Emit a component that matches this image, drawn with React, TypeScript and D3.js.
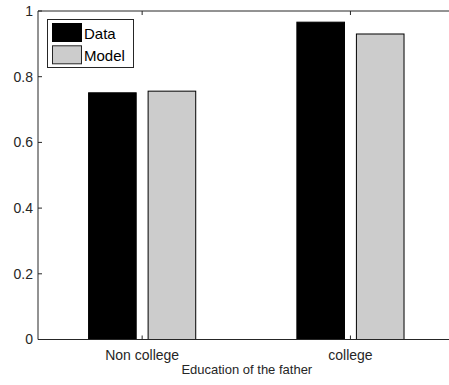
import React from "react";
import * as d3 from "d3";

// Share of children by the father's education: observed data vs. model
const categories = ["Non college", "college"];
const seriesNames = ["Data", "Model"];
const dataValues = [0.751, 0.966];
const modelValues = [0.756, 0.93];
const yTicks = [0, 0.2, 0.4, 0.6, 0.8, 1];
const yTickLabels = ["0", "0.2", "0.4", "0.6", "0.8", "1"];
const xLabel = "Education of the father";

const W = 449;
const H = 385;
const axisColor = "#262626";
const fills = ["#000000", "#cccccc"];
const font = "Liberation Sans, Arial, Helvetica, sans-serif";

export default function App() {
  const x = d3.scaleLinear().domain([0.5, 2.5]).range([38, 454.6]);
  const y = d3.scaleLinear().domain([0, 1]).range([339.5, 11]);

  const barW = 0.2286;
  const offsets = [-0.1429, 0.1429];
  const series = [dataValues, modelValues];
  const tickLen = 4;

  return (
    <svg
      width={W}
      height={H}
      style={{ position: "absolute", left: 0, top: 0, background: "#fff" }}
      fontFamily={font}
    >
      <rect x={0} y={0} width={W} height={H} fill="#fff" />
      {/* bars */}
      {series.map((vals, s) =>
        vals.map((v, i) => {
          const cx = i + 1 + offsets[s];
          const x0 = x(cx - barW / 2);
          const x1 = x(cx + barW / 2);
          return (
            <rect
              key={`${s}-${i}`}
              x={x0}
              y={y(v)}
              width={x1 - x0}
              height={y(0) - y(v)}
              fill={fills[s]}
              stroke="#000"
              strokeWidth={1}
            />
          );
        })
      )}
      {/* axes box lines */}
      <line x1={x(0.5)} x2={x(2.5)} y1={y(0)} y2={y(0)} stroke={axisColor} strokeWidth={1} />
      <line x1={x(0.5)} x2={x(2.5)} y1={y(1)} y2={y(1)} stroke={axisColor} strokeWidth={1} />
      <line x1={x(0.5)} x2={x(0.5)} y1={y(0)} y2={y(1)} stroke={axisColor} strokeWidth={1} />
      {/* y ticks */}
      {yTicks.map((t, i) => (
        <g key={t}>
          <line
            x1={x(0.5)}
            x2={x(0.5) + tickLen}
            y1={y(t)}
            y2={y(t)}
            stroke={axisColor}
          />
          <text
            x={x(0.5) - 5}
            y={y(t)}
            dy="0.35em"
            textAnchor="end"
            fontSize={14}
            fill={axisColor}
          >
            {yTickLabels[i]}
          </text>
        </g>
      ))}
      {/* x ticks */}
      {categories.map((c, i) => (
        <g key={c}>
          <line x1={x(i + 1)} x2={x(i + 1)} y1={y(0)} y2={y(0) - tickLen} stroke={axisColor} />
          <line x1={x(i + 1)} x2={x(i + 1)} y1={y(1)} y2={y(1) + tickLen} stroke={axisColor} />
          <text x={x(i + 1)} y={360} textAnchor="middle" fontSize={14} fill={axisColor}>
            {c}
          </text>
        </g>
      ))}
      <text x={(x(0.5) + x(2.5)) / 2 + 0.5} y={374} textAnchor="middle" fontSize={13} fill={axisColor}>
        {xLabel}
      </text>
      {/* legend */}
      <g>
        <rect x={47.5} y={19.5} width={86} height={48} fill="#fff" stroke={axisColor} strokeWidth={1} />
        {seriesNames.map((n, i) => (
          <g key={n}>
            <rect
              x={52.5}
              y={23.5 + i * 22.3}
              width={29}
              height={18}
              fill={fills[i]}
              stroke={i === 0 ? "#000" : axisColor}
              strokeWidth={1}
            />
            <text x={84} y={38.5 + i * 22} fontSize={15} fill="#000">
              {n}
            </text>
          </g>
        ))}
      </g>
    </svg>
  );
}
